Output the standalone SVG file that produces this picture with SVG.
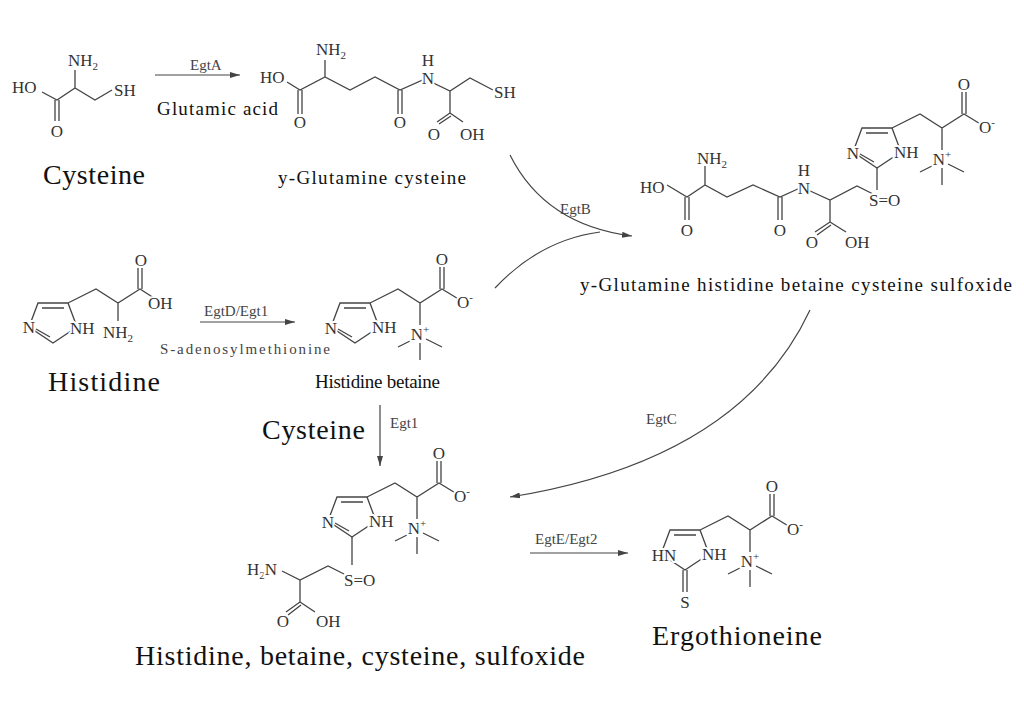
<svg xmlns="http://www.w3.org/2000/svg" width="1024" height="724" viewBox="0 0 1024 724">
<style>
.b{stroke:#444;stroke-width:1.3;fill:none}
.a{stroke:#444;stroke-width:1.2;fill:none}
text{font-family:"Liberation Serif","Times New Roman",serif;fill:#333}
.l{font-size:17px;text-anchor:middle;paint-order:stroke;stroke:#fff;stroke-width:4px;stroke-linejoin:round}
.ls{font-size:17px;paint-order:stroke;stroke:#fff;stroke-width:4px;stroke-linejoin:round}
.e{font-size:15px;fill:#444}
.n{font-size:28px;fill:#111}
.m{font-size:19px;fill:#111}
</style>
<defs>
<marker id="ar" viewBox="0 0 10 6" refX="10" refY="3" markerWidth="10" markerHeight="6" orient="auto" markerUnits="userSpaceOnUse"><path d="M0,0L10,3L0,6Z" fill="#444"/></marker>
<g id="core">
<path class="b" d="M-30,0L0,0L9,24L-15,40L-39,24Z M-26,5L-4,5 M0,0L28,-14L50,0L72,-14L90,-3 M70,-14L70,-36 M74,-14L74,-36 M50,0L50,22 M44,36L28,44 M56,36L72,44 M50,40L50,57"/>
<text class="ls" x="2" y="30">NH</text>
<text class="l" x="72" y="-38">O</text>
<text class="ls" x="87" y="5">O<tspan font-size="11" dy="-7">-</tspan></text>
<text class="l" x="50" y="37">N<tspan font-size="11" dy="-7">+</tspan></text>
</g>
<g id="nleft">
<path class="b" d="M-18,34L-32,26"/>
<text class="l" x="-39" y="31">N</text>
</g>
</defs>

<g id="cysteine">
<path class="b" d="M42,92L57,100L75,88L95,100L112,90 M75,88L75,70 M55,100L55,121 M59,100L59,121"/>
<text class="ls" x="12" y="93">HO</text>
<text class="ls" x="68" y="66">NH<tspan font-size="11" dy="4">2</tspan></text>
<text class="ls" x="114" y="96">SH</text>
<text class="l" x="57" y="137">O</text>
<text class="n" x="43" y="184" textLength="102">Cysteine</text>
</g>

<g id="gluCys">
<path class="b" d="M287,82L300,90L325,77L350,90L375,77L400,90L425,79L450,91L470,78L493,90 M325,77L325,60 M298,90L298,114 M302,90L302,114 M398,90L398,114 M402,90L402,114 M450,91L450,113L437,122 M451,116L439,124 M450,113L463,122"/>
<text class="ls" x="260" y="83">HO</text>
<text class="ls" x="316" y="55">NH<tspan font-size="11" dy="4">2</tspan></text>
<text class="l" x="300" y="128">O</text>
<text class="l" x="400" y="128">O</text>
<text class="l" x="428" y="84">N</text>
<text class="l" x="428" y="66">H</text>
<text class="ls" x="494" y="98">SH</text>
<text class="l" x="434" y="140">O</text>
<text class="ls" x="460" y="140">OH</text>
<text class="m" x="278" y="184" textLength="188">y-Glutamine cysteine</text>
</g>

<g id="histidine">
<path class="b" d="M38,303L68,303L77,327L53,343L29,327Z M42,308L64,308 M50,337L36,329 M68,303L96,289L118,303L140,289L157,300 M138,289L138,268 M142,289L142,268 M118,303L118,321"/>
<text class="l" x="29" y="333">N</text>
<text class="ls" x="70" y="334">NH</text>
<text class="l" x="141" y="266">O</text>
<text class="ls" x="148" y="309">OH</text>
<text class="ls" x="103" y="338">NH<tspan font-size="11" dy="4">2</tspan></text>
<text class="n" x="48" y="391" textLength="112">Histidine</text>
</g>

<g id="hisBetaine">
<use href="#core" x="370" y="303"/>
<use href="#nleft" x="370" y="303"/>
<text class="m" x="315" y="388" textLength="125">Histidine betaine</text>
</g>

<g id="gluHisCysSO">
<use href="#core" x="892" y="128"/>
<use href="#nleft" x="892" y="128"/>
<path class="b" d="M667,185L687,197L705,185L727,197L753,185L780,197L800,188 M705,185L705,166 M685,197L685,220 M689,197L689,220 M778,197L778,220 M782,197L782,220 M808,190L830,200L857,186L873,194 M877,168L877,190 M830,200L830,222L815,232 M831,225L817,235 M830,222L846,232"/>
<text class="ls" x="640" y="193">HO</text>
<text class="ls" x="697" y="164">NH<tspan font-size="11" dy="4">2</tspan></text>
<text class="l" x="687" y="236">O</text>
<text class="l" x="780" y="236">O</text>
<text class="l" x="804" y="194">N</text>
<text class="l" x="804" y="176">H</text>
<text class="ls" x="869" y="206">S=O</text>
<text class="l" x="812" y="248">O</text>
<text class="ls" x="845" y="248">OH</text>
<text class="m" x="580" y="291" textLength="432">y-Glutamine histidine betaine cysteine sulfoxide</text>
</g>

<g id="hisBetCysSO">
<use href="#core" x="367" y="497"/>
<use href="#nleft" x="367" y="497"/>
<path class="b" d="M352,537L352,565 M282,571L300,580L328,566L344,574 M300,580L300,602L286,612 M301,605L288,615 M300,602L315,612"/>
<text class="ls" x="344" y="586">S=O</text>
<text class="ls" x="247" y="575">H<tspan font-size="11" dy="4">2</tspan><tspan dy="-4">N</tspan></text>
<text class="l" x="283" y="627">O</text>
<text class="ls" x="316" y="627">OH</text>
<text class="n" x="135" y="665" textLength="450">Histidine, betaine, cysteine, sulfoxide</text>
</g>

<g id="ergothioneine">
<use href="#core" x="700" y="530"/>
<path class="b" d="M683,570L683,592 M687,570L687,592"/>
<text class="l" x="664" y="561">HN</text>
<text class="l" x="685" y="608">S</text>
<text class="n" x="652" y="645" textLength="170">Ergothioneine</text>
</g>

<g id="connectors">
<path class="a" d="M155,75L240,75" marker-end="url(#ar)"/>
<path class="a" d="M200,322L295,322" marker-end="url(#ar)"/>
<path class="a" d="M380,405L380,466" marker-end="url(#ar)"/>
<path class="a" d="M530,553L628,553" marker-end="url(#ar)"/>
<path class="a" d="M510,155Q545,225 632,236" marker-end="url(#ar)"/>
<path class="a" d="M495,288Q540,240 600,232"/>
<path class="a" d="M810,310Q740,460 510,497" marker-end="url(#ar)"/>
<text class="e" x="190" y="70">EgtA</text>
<text class="m" x="157" y="115" textLength="121">Glutamic acid</text>
<text class="e" x="204" y="316">EgtD/Egt1</text>
<text class="e" x="160" y="354" textLength="170">S-adenosylmethionine</text>
<text class="e" x="560" y="214">EgtB</text>
<text class="e" x="390" y="428">Egt1</text>
<text class="n" x="262" y="439" textLength="103">Cysteine</text>
<text class="e" x="646" y="424">EgtC</text>
<text class="e" x="535" y="544">EgtE/Egt2</text>
</g>
</svg>
